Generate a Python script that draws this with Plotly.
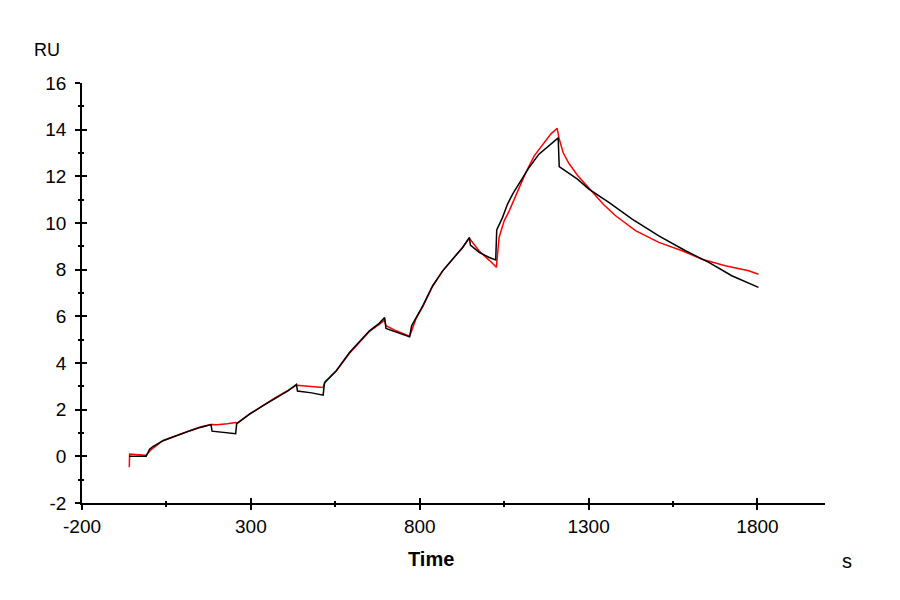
import plotly.graph_objects as go

# Measured sensorgram (black)
black_t = [-60, -10, 0, 10, 40, 80, 120, 150, 182, 185, 230, 255, 258, 297, 336, 376, 410, 435,
           438, 480, 514, 518, 553, 592, 620, 651, 680, 696, 700, 730, 770, 776, 789, 809, 838,
           868, 897, 927, 947, 950, 976, 1006, 1025, 1028, 1045, 1060, 1075, 1099, 1124, 1153,
           1183, 1202, 1210, 1213, 1267, 1301, 1360, 1429, 1508, 1587, 1656, 1724, 1803]
black_ru = [0.0, 0.0, 0.3, 0.42, 0.67, 0.89, 1.1, 1.24, 1.36, 1.08, 1.0, 0.97, 1.4, 1.82, 2.17, 2.53,
            2.81, 3.08, 2.8, 2.72, 2.62, 3.15, 3.67, 4.45, 4.9, 5.38, 5.7, 5.95, 5.48, 5.32, 5.12,
            5.6, 5.95, 6.45, 7.31, 7.95, 8.45, 8.95, 9.38, 9.05, 8.74, 8.52, 8.42, 9.7, 10.23,
            10.81, 11.24, 11.81, 12.38, 12.95, 13.31, 13.52, 13.65, 12.42, 11.88, 11.45, 10.88,
            10.17, 9.45, 8.81, 8.31, 7.74, 7.24]

# Fitted curve (red)
red_t = [-60, -59, -10, 2, 40, 80, 120, 150, 182, 200, 230, 255, 260, 297, 336, 376, 410, 435,
         470, 514, 520, 553, 592, 620, 651, 680, 696, 700, 730, 770, 789, 809, 838, 868, 897,
         927, 947, 976, 1006, 1027, 1035, 1050, 1065, 1085, 1114, 1139, 1168, 1188, 1207, 1212,
         1225, 1242, 1267, 1286, 1311, 1345, 1380, 1439, 1508, 1577, 1636, 1705, 1774, 1803]
red_ru = [-0.47, 0.1, 0.05, 0.25, 0.68, 0.9, 1.12, 1.26, 1.36, 1.35, 1.4, 1.45, 1.42, 1.82, 2.17,
          2.55, 2.83, 3.05, 3.0, 2.95, 3.2, 3.67, 4.42, 4.88, 5.35, 5.65, 5.85, 5.6, 5.38, 5.15,
          5.9, 6.42, 7.28, 7.95, 8.45, 8.95, 9.35, 8.8, 8.4, 8.1, 9.38, 10.09, 10.52, 11.16,
          12.16, 12.88, 13.45, 13.81, 14.06, 13.66, 13.0, 12.55, 12.05, 11.73, 11.31, 10.78,
          10.31, 9.67, 9.17, 8.81, 8.45, 8.17, 7.95, 7.8]

x_ticks = [-200, 300, 800, 1300, 1800]
y_ticks = [-2, 0, 2, 4, 6, 8, 10, 12, 14, 16]
x_minor = [50, 550, 1050, 1550]
y_minor = [-1, 1, 3, 5, 7, 9, 11, 13, 15]

FONT = "Liberation Sans, Arial, sans-serif"

fig = go.Figure()
fig.add_trace(go.Scatter(x=red_t, y=red_ru, mode="lines",
                         line=dict(color="#ff0000", width=1.5), showlegend=False))
fig.add_trace(go.Scatter(x=black_t, y=black_ru, mode="lines",
                         line=dict(color="#000000", width=1.5), showlegend=False))
# helper trace so the overlay axes (inner half of ticks) are drawn
fig.add_trace(go.Scatter(x=[None], y=[None], xaxis="x2", yaxis="y2", showlegend=False))

axis_common = dict(showgrid=False, zeroline=False)

# page body adds an 8px offset; plot area in screenshot spans x 82..825, y 83..503
fig.update_layout(
    width=900, height=600,
    margin=dict(l=74, r=83, t=75, b=105),
    paper_bgcolor="white", plot_bgcolor="white",
    font=dict(family=FONT, size=19, color="#000000"),
    xaxis=dict(range=[-200, 2000], tickvals=x_ticks, ticktext=[str(v) for v in x_ticks],
               showline=True, linecolor="black", linewidth=1.5,
               ticks="outside", ticklen=5, tickwidth=1.5, tickcolor="black",
               minor=dict(tickvals=x_minor, ticks="outside", ticklen=2,
                          tickwidth=1.5, tickcolor="black"),
               ticklabelstandoff=0, **axis_common),
    yaxis=dict(range=[-2, 16], tickvals=y_ticks, ticktext=[str(v) for v in y_ticks],
               showline=True, linecolor="black", linewidth=1.5,
               ticks="outside", ticklen=5, tickwidth=1.5, tickcolor="black",
               minor=dict(tickvals=y_minor, ticks="outside",
                          ticklen=2, tickwidth=1.5, tickcolor="black"),
               ticklabelstandoff=5, **axis_common),
    xaxis2=dict(range=[-200, 2000], overlaying="x", anchor="y2", tickvals=x_ticks,
                showticklabels=False, ticks="inside", ticklen=5, tickwidth=1.5,
                tickcolor="black", showline=False,
                minor=dict(tickvals=x_minor, ticks="inside", ticklen=2,
                           tickwidth=1.5, tickcolor="black"), **axis_common),
    yaxis2=dict(range=[-2, 16], overlaying="y", anchor="x2", tickvals=y_ticks,
                showticklabels=False, ticks="inside", ticklen=5, tickwidth=1.5,
                tickcolor="black", showline=False,
                minor=dict(tickvals=y_minor, ticks="inside",
                           ticklen=2, tickwidth=1.5, tickcolor="black"), **axis_common),
    annotations=[
        dict(text="RU", xref="paper", yref="paper", x=-0.047, y=1.0785,
             showarrow=False, font=dict(size=18), xanchor="center", yanchor="middle"),
        dict(text="<b>Time</b>", xref="paper", yref="paper", x=(431 - 82) / 743.6,
             y=(503.3 - 559.5) / 420.3, showarrow=False, font=dict(size=20),
             xanchor="center", yanchor="middle"),
        dict(text="s", xref="paper", yref="paper", x=(847.5 - 82) / 743.6,
             y=(503.3 - 561) / 420.3, showarrow=False, font=dict(size=20),
             xanchor="center", yanchor="middle"),
    ],
)

fig.write_html("out.html")
